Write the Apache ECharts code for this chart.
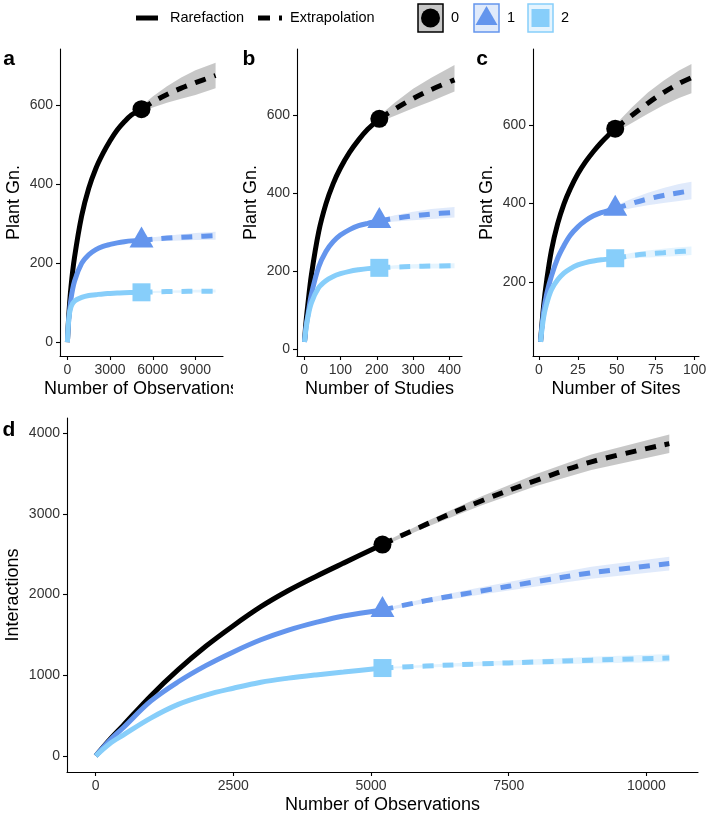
<!DOCTYPE html>
<html><head><meta charset="utf-8">
<script src="https://cdn.jsdelivr.net/npm/echarts@6/dist/echarts.min.js"></script>
<style>html,body{margin:0;padding:0;background:#fff}#chart{width:709px;height:815px}</style>
</head><body><div id="chart"></div>
<script>
// ---------------- DATA ----------------
const groupNames = ['0', '1', '2'];
const legendLineLabels = ['Rarefaction', 'Extrapolation'];
const panelLetters = ['a', 'b', 'c', 'd'];
const xTitles = ['Number of Observations', 'Number of Studies', 'Number of Sites', 'Number of Observations'];
const yTitles = ['Plant Gn.', 'Plant Gn.', 'Plant Gn.', 'Interactions'];

// panel a : observations
const aRareX = [1, 100, 250, 500, 1000, 1500, 2000, 2500, 3000, 3500, 4000, 4500, 5208];
const aRare0 = [1, 70, 140, 215, 320, 390, 440, 478, 510, 537, 558, 575, 590];
const aRare1 = [1, 60, 110, 155, 200, 222, 235, 243, 248, 252, 255, 257, 258];
const aRare2 = [1, 60, 90, 105, 114, 119, 121, 123, 124, 125, 126, 126.5, 127];
const aExtX = [5208, 6000, 7000, 8000, 9000, 10416];
const aExt0 = [590, 608, 627, 643, 657, 675];
const aLo0 = [582, 594, 606, 616, 626, 643];
const aHi0 = [598, 622, 648, 670, 688, 707];
const aExt1 = [258, 261, 264, 266, 268, 270];
const aLo1 = [255, 256, 257, 258, 259, 260];
const aHi1 = [261, 266, 270, 274, 277, 280];
const aExt2 = [127, 128, 128.8, 129.3, 129.7, 130];
const aLo2 = [125, 125.5, 126, 126, 126.3, 126.5];
const aHi2 = [129, 130.5, 131.6, 132.5, 133.2, 134];
const aTicksX = [0, 3000, 6000, 9000];
const aTicksY = [0, 200, 400, 600];

// panel b : studies
const bRareX = [1, 5, 10, 20, 40, 60, 80, 100, 125, 150, 175, 207];
const bRare0 = [18, 68, 112, 190, 300, 372, 424, 464, 504, 536, 563, 590];
const bRare1 = [18, 55, 85, 140, 210, 250, 275, 292, 306, 316, 322, 328];
const bRare2 = [18, 50, 80, 118, 157, 175, 186, 193, 199, 203, 206, 208];
const bExtX = [207, 250, 300, 350, 414];
const bExt0 = [590, 615, 642, 665, 690];
const bLo0 = [582, 598, 617, 635, 660];
const bHi0 = [598, 632, 667, 695, 728];
const bExt1 = [328, 335, 341, 346, 350];
const bLo1 = [323, 327, 330, 333, 337];
const bHi1 = [333, 343, 352, 359, 364];
const bExt2 = [208, 210, 211.5, 212.5, 213.5];
const bLo2 = [205, 205.5, 206, 206.5, 207];
const bHi2 = [211, 214.5, 217, 218.5, 220];
const bTicksX = [0, 100, 200, 300, 400];
const bTicksY = [0, 200, 400, 600];

// panel c : sites
const cRareX = [1, 3, 5, 8, 12, 16, 20, 25, 30, 35, 40, 45, 49];
const cRare0 = [47, 140, 205, 280, 348, 398, 436, 475, 506, 532, 555, 575, 590];
const cRare1 = [47, 125, 170, 215, 260, 292, 318, 340, 356, 368, 376, 382, 386];
const cRare2 = [47, 110, 145, 180, 205, 222, 233, 243, 249, 253, 256, 258, 260];
const cExtX = [49, 60, 70, 80, 90, 98];
const cExt0 = [590, 625, 655, 682, 705, 720];
const cLo0 = [580, 605, 628, 650, 668, 680];
const cHi0 = [600, 645, 682, 712, 738, 755];
const cExt1 = [386, 400, 411, 420, 427, 432];
const cLo1 = [378, 388, 395, 401, 406, 410];
const cHi1 = [394, 412, 427, 439, 449, 455];
const cExt2 = [260, 267, 271, 274, 277, 279];
const cLo2 = [255, 260, 262, 264, 266, 268];
const cHi2 = [265, 274, 280, 284, 288, 290];
const cTicksX = [0, 25, 50, 75, 100];
const cTicksY = [200, 400, 600];

// panel d : interactions vs observations
const dRareX = [1, 250, 500, 1000, 1500, 2000, 2500, 3000, 3500, 4000, 4500, 5208];
const dRare0 = [1, 200, 380, 745, 1070, 1360, 1615, 1850, 2050, 2225, 2390, 2620];
const dRare1 = [1, 190, 350, 680, 920, 1120, 1290, 1440, 1560, 1655, 1735, 1810];
const dRare2 = [1, 150, 260, 470, 640, 755, 840, 915, 965, 1005, 1040, 1090];
const dExtX = [5208, 6000, 7000, 8000, 9000, 10416];
const dExt0 = [2620, 2870, 3160, 3415, 3645, 3870];
const dLo0 = [2600, 2835, 3105, 3345, 3545, 3755];
const dHi0 = [2640, 2905, 3215, 3495, 3735, 3985];
const dExt1 = [1810, 1925, 2045, 2160, 2270, 2385];
const dLo1 = [1795, 1895, 2000, 2100, 2195, 2300];
const dHi1 = [1825, 1955, 2090, 2220, 2345, 2470];
const dExt2 = [1090, 1115, 1142, 1165, 1188, 1215];
const dLo2 = [1080, 1098, 1117, 1132, 1147, 1165];
const dHi2 = [1100, 1132, 1167, 1198, 1229, 1265];
const dTicksX = [0, 2500, 5000, 7500, 10000];
const dTicksY = [0, 1000, 2000, 3000, 4000];

// ---------------- STYLE ----------------
const FONT = 'Liberation Sans, Arial, Helvetica, sans-serif';
const lineColors = ['#000000', '#6495ED', '#87CEFA'];
const bandColors = ['rgba(0,0,0,0.22)', 'rgba(100,149,237,0.2)', 'rgba(135,206,250,0.22)'];
const symbols = ['circle', 'triangle', 'rect'];
const symbolSizes = [18, [24, 21], 18];
const symbolOffsets = [[0, 0], [0, -3.5], [0, 0]];

const panels = [
  { grid: {left: 60, top: 49, width: 163, height: 307}, xr: [-520, 10937], yr: [-34, 742], yGap: 37,
    xt: aTicksX, yt: aTicksY, rx: aRareX, r: [aRare0, aRare1, aRare2], ex: aExtX, e: [aExt0, aExt1, aExt2], lo: [aLo0, aLo1, aLo2], hi: [aHi0, aHi1, aHi2] },
  { grid: {left: 297, top: 49, width: 165, height: 307}, xr: [-19.65, 434.65], yr: [-18, 769], yGap: 37,
    xt: bTicksX, yt: bTicksY, rx: bRareX, r: [bRare0, bRare1, bRare2], ex: bExtX, e: [bExt0, bExt1, bExt2], lo: [bLo0, bLo1, bLo2], hi: [bHi0, bHi1, bHi2] },
  { grid: {left: 533, top: 49, width: 166, height: 307}, xr: [-3.85, 102.85], yr: [11, 793], yGap: 37,
    xt: cTicksX, yt: cTicksY, rx: cRareX, r: [cRare0, cRare1, cRare2], ex: cExtX, e: [cExt0, cExt1, cExt2], lo: [cLo0, cLo1, cLo2], hi: [cHi0, cHi1, cHi2] },
  { grid: {left: 67, top: 418, width: 631, height: 354}, xr: [-520, 10937], yr: [-198, 4188], yGap: 45,
    xt: dTicksX, yt: dTicksY, rx: dRareX, r: [dRare0, dRare1, dRare2], ex: dExtX, e: [dExt0, dExt1, dExt2], lo: [dLo0, dLo1, dLo2], hi: [dHi0, dHi1, dHi2] }
];

const grids = [], xAxes = [], yAxes = [], series = [];
function axisBase(ticks) {
  return {
    axisLine: {show: true, onZero: false, lineStyle: {color: '#000', width: 1.1}},
    axisTick: {show: true, length: 4, inside: false, customValues: ticks, lineStyle: {color: '#000', width: 1.1}},
    axisLabel: {customValues: ticks, fontSize: 14, color: '#333', fontFamily: FONT, formatter: v => String(v)},
    splitLine: {show: false},
    nameLocation: 'middle',
    nameMoveOverlap: false,
    nameTextStyle: {fontSize: 18, color: '#000', fontFamily: FONT}
  };
}
panels.forEach((p, g) => {
  grids.push(Object.assign({containLabel: false, outerBoundsMode: 'none'}, p.grid));
  const xa = axisBase(p.xt);
  Object.assign(xa, {gridIndex: g, type: 'value', min: p.xr[0], max: p.xr[1], name: xTitles[g], nameGap: 24});
  xa.axisLabel.margin = 7;
  xAxes.push(xa);
  const ya = axisBase(p.yt);
  Object.assign(ya, {gridIndex: g, type: 'value', min: p.yr[0], max: p.yr[1], name: yTitles[g], nameGap: p.yGap});
  ya.axisLabel.margin = 7;
  yAxes.push(ya);

  // confidence bands
  for (let s = 0; s < 3; s++) {
    const data = p.ex.map((x, i) => [x, p.lo[s][i], p.hi[s][i]]);
    series.push({
      type: 'custom', xAxisIndex: g, yAxisIndex: g, silent: true, z: 1,
      data: data, encode: {x: 0, y: [1, 2]},
      renderItem: function (params, api) {
        if (params.dataIndex !== 0) return null;
        const pts = [];
        for (let i = 0; i < data.length; i++) pts.push(api.coord([data[i][0], data[i][2]]));
        for (let i = data.length - 1; i >= 0; i--) pts.push(api.coord([data[i][0], data[i][1]]));
        return {type: 'polygon', shape: {points: pts}, style: {fill: bandColors[s], stroke: null}};
      }
    });
  }
  // rarefaction + extrapolation lines
  for (let s = 0; s < 3; s++) {
    series.push({
      type: 'line', xAxisIndex: g, yAxisIndex: g, z: 2 + s, silent: true,
      data: p.rx.map((x, i) => [x, p.r[s][i]]),
      showSymbol: false, smooth: 0.35,
      lineStyle: {color: lineColors[s], width: 5, type: 'solid', cap: 'butt'}
    });
    series.push({
      type: 'line', xAxisIndex: g, yAxisIndex: g, z: 2 + s, silent: true,
      data: p.ex.map((x, i) => [x, p.e[s][i]]),
      showSymbol: false, smooth: 0.35,
      lineStyle: {color: lineColors[s], width: 5, type: [11, 9], cap: 'butt'}
    });
  }
  // observed points
  for (let s = 0; s < 3; s++) {
    const n = p.rx.length - 1;
    series.push({
      type: 'scatter', xAxisIndex: g, yAxisIndex: g, z: 6, silent: true,
      data: [[p.rx[n], p.r[s][n]]],
      symbol: symbols[s], symbolSize: symbolSizes[s], symbolOffset: symbolOffsets[s],
      itemStyle: {color: lineColors[s], opacity: 1}
    });
  }
});

// panel letters + legend (graphics)
const graphics = [];
const letterPos = [[9, 59], [249, 59], [482, 59], [9, 430]];
panelLetters.forEach((L, i) => graphics.push({
  type: 'text', x: letterPos[i][0], y: letterPos[i][1], z: 50,
  style: {text: L, fontSize: 21, fontWeight: 'bold', fontFamily: FONT, fill: '#000', align: 'center', verticalAlign: 'middle'}
}));
const LY = 18;
graphics.push({type: 'line', z: 50, shape: {x1: 136, y1: LY, x2: 158, y2: LY}, style: {stroke: '#000', lineWidth: 5}});
graphics.push({type: 'text', z: 50, x: 170, y: LY, style: {text: legendLineLabels[0], fontSize: 14.5, fontFamily: FONT, fill: '#000', verticalAlign: 'middle'}});
graphics.push({type: 'line', z: 50, shape: {x1: 258, y1: LY, x2: 282, y2: LY}, style: {stroke: '#000', lineWidth: 5, lineDash: [12, 9]}});
graphics.push({type: 'text', z: 50, x: 290, y: LY, style: {text: legendLineLabels[1], fontSize: 14.5, fontFamily: FONT, fill: '#000', verticalAlign: 'middle'}});
const boxX = [418, 474, 528];
for (let s = 0; s < 3; s++) {
  const bx = boxX[s], bw = 25, bh = 28, by = LY - 14;
  graphics.push({type: 'rect', z: 50, shape: {x: bx, y: by, width: bw, height: bh}, style: {fill: '#fff', stroke: null}});
  graphics.push({type: 'rect', z: 51, shape: {x: bx, y: by, width: bw, height: bh}, style: {fill: bandColors[s], stroke: lineColors[s], lineWidth: 1.5}});
  const cx = bx + bw / 2;
  if (s === 0) graphics.push({type: 'circle', z: 52, shape: {cx: cx, cy: LY, r: 9.5}, style: {fill: lineColors[s]}});
  if (s === 1) graphics.push({type: 'polygon', z: 52, shape: {points: [[cx, LY - 12], [cx + 11, LY + 7], [cx - 11, LY + 7]]}, style: {fill: lineColors[s]}});
  if (s === 2) graphics.push({type: 'rect', z: 52, shape: {x: cx - 9, y: LY - 9, width: 18, height: 18}, style: {fill: lineColors[s]}});
  graphics.push({type: 'text', z: 50, x: bx + bw + 8, y: LY, style: {text: groupNames[s], fontSize: 14.5, fontFamily: FONT, fill: '#000', verticalAlign: 'middle'}});
}
// clip the overflowing axis title of panel a (as in the original)
graphics.push({type: 'rect', z: 100, shape: {x: 233, y: 376, width: 8, height: 26}, style: {fill: '#fff'}});

const chart = echarts.init(document.getElementById('chart'), null, {renderer: 'canvas'});
chart.setOption({
  animation: false,
  backgroundColor: '#fff',
  grid: grids, xAxis: xAxes, yAxis: yAxes, series: series, graphic: graphics
});
</script></body></html>
